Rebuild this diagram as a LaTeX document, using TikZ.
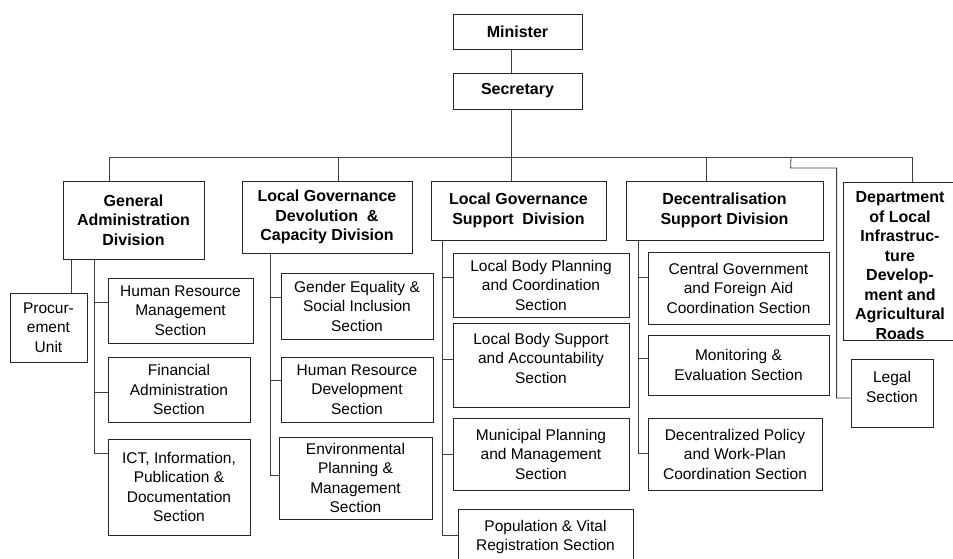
\documentclass[tikz,border=0pt]{standalone}
\usepackage{fontspec}
\setmainfont{Liberation Sans}
\usetikzlibrary{positioning, calc}

\begin{document}
\begin{tikzpicture}[
    x=1pt, y=-1pt,
    font=\fontsize{15.5}{19.5}\selectfont,
    unit/.style={
        draw=black!85,
        line width=0.8pt,
        fill=white,
        inner sep=0pt,
        align=center
    },
    head/.style={
        unit,
        font=\fontsize{16}{19.5}\selectfont\bfseries
    },
    link/.style={
        draw=black!75,
        line width=0.8pt
    }
]

    \useasboundingbox (0,0) rectangle (953,559);
    \clip (0,0) rectangle (953,559);

    % Top of the ministry
    \node[head, minimum width=129, minimum height=35] (min) at (517.5,31.5) {Minister};
    \node[head, minimum width=129, minimum height=36] (sec) at (517.5,91) {Secretary};

    % --- Divisions ---
    \node[head, minimum width=141, minimum height=78] (ga) at (133.5,220)
        {General\\Administration\\Division};
    \node[head, minimum width=170, minimum height=72] (lgd) at (327,217)
        {Local Governance\\Devolution~ \&\\Capacity Division};
    \node[head, minimum width=175, minimum height=59] (lgs) at (518.5,210.5)
        {Local Governance\\Support~ Division};
    \node[head, minimum width=197, minimum height=59] (dsd) at (724.5,210.5)
        {Decentralisation\\Support Division};
    \node[head, minimum width=114, minimum height=158] (dept) at (900,261)
        {\rule{0pt}{20pt}Department\\of Local\\Infrastruc-\\ture\\Develop-\\ment and\\Agricultural\\Roads};

    % --- General Administration ---
    \node[unit, minimum width=77, minimum height=69] (proc) at (48.5,327.5)
        {Procur-\\ement\\Unit};
    \node[unit, minimum width=145, minimum height=65] (hrm) at (180.5,310.5)
        {Human Resource\\Management\\Section};
    \node[unit, minimum width=142, minimum height=65] (fin) at (179,389.5)
        {Financial\\Administration\\Section};
    \node[unit, minimum width=142, minimum height=96] (ict) at (179,487)
        {ICT, Information,\\Publication \&\\Documentation\\Section};

    % --- Devolution & Capacity ---
    \node[unit, minimum width=152, minimum height=66] (ges) at (357,306)
        {Gender Equality \&\\Social Inclusion\\Section};
    \node[unit, minimum width=152, minimum height=65] (hrd) at (357,389.5)
        {Human Resource\\Development\\Section};
    \node[unit, minimum width=153, minimum height=82] (env) at (355.5,478)
        {Environmental\\Planning \&\\Management\\Section};

    % --- Governance Support ---
    \node[unit, minimum width=176, minimum height=64] (lbp) at (541,285)
        {Local Body Planning\\and Coordination\\Section};
    \node[unit, minimum width=176, minimum height=84, text depth=14pt] (lbs) at (541,365)
        {Local Body Support\\and Accountability\\Section};
    \node[unit, minimum width=176, minimum height=72] (mun) at (541,454)
        {Municipal Planning\\and Management\\Section};
    \node[unit, minimum width=175, minimum height=56] (pop) at (545.5,537)
        {Population \& Vital\\Registration Section};

    % --- Decentralisation Support ---
    \node[unit, minimum width=181, minimum height=72] (cga) at (738.5,288)
        {Central Government\\and Foreign Aid\\Coordination Section};
    \node[unit, minimum width=181, minimum height=60] (mne) at (738.5,365)
        {Monitoring \&\\Evaluation Section};
    \node[unit, minimum width=174, minimum height=72] (dpw) at (735,454)
        {Decentralized Policy\\and Work-Plan\\Coordination Section};

    \node[unit, minimum width=82, minimum height=68, text depth=12pt] (legal) at (892,393)
        {Legal\\Section};

    % Main trunk and bus
    \coordinate (trunk) at (511,157);
    \coordinate (busL) at (109,157);
    \coordinate (busR) at (912,157);
    \coordinate (tapLGD) at (338,157);
    \coordinate (tapDSD) at (706,157);
    \coordinate (tapLegal) at (791,157);

    \draw[link] (trunk |- min.south) -- (trunk |- sec.north);
    \draw[link] (trunk |- sec.south) -- (trunk |- lgs.north);
    \draw[link] (busL |- ga.north) -- (busL) -- (busR) -- (busR |- dept.north);
    \draw[link] (tapLGD) -- (tapLGD |- lgd.north);
    \draw[link] (tapDSD) -- (tapDSD |- dsd.north);
    \draw[link] ([yshift=-5pt]legal.west) -- ++(-14,0) |- ++(-46,-230) -- (tapLegal);

    % General Administration branches
    \draw[link] ([xshift=22.5pt]proc.north) -- ++(0,-34);
    \draw[link] ([xshift=-39.5pt]ga.south) -- ++(0,194);
    \draw[link] ([yshift=8.5pt]hrm.west) -- ++(-14,0);
    \draw[link] ([yshift=-2.5pt]fin.west) -- ++(-14,0);
    \draw[link] ([yshift=34pt]ict.west) -- ++(-14,0);

    % Devolution & Capacity branches
    \draw[link] ([xshift=-57pt]lgd.south) -- ++(0,222);
    \draw[link] ([yshift=9pt]ges.west) -- ++(-11,0);
    \draw[link] ([yshift=9.5pt]hrd.west) -- ++(-11,0);
    \draw[link] ([yshift=3pt]env.west) -- ++(-9,0);

    % Governance Support branches
    \draw[link] ([xshift=-76.5pt]lgs.south) -- ++(0,295);
    \draw[link] ([yshift=8pt]lbp.west) -- ++(-11,0);
    \draw[link] ([yshift=6pt]lbs.west) -- ++(-11,0);
    \draw[link] (mun.west) -- ++(-11,0);
    \draw[link] ([yshift=2pt]pop.west) -- ++(-16,0);

    % Decentralisation Support branches
    \draw[link] ([xshift=-86.5pt]dsd.south) -- ++(0,213);
    \draw[link] ([yshift=11pt]cga.west) -- ++(-10,0);
    \draw[link] ([yshift=7pt]mne.west) -- ++(-10,0);
    \draw[link] ([yshift=1pt]dpw.west) -- ++(-10,0);

\end{tikzpicture}
\end{document}
